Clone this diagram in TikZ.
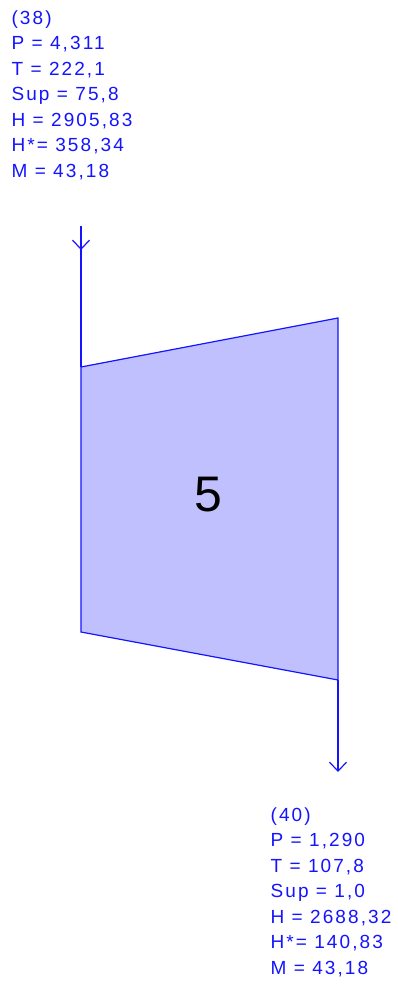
\documentclass[tikz,border=0pt]{standalone}
\usepackage{fontspec}
\setmainfont{Liberation Sans}
\newfontfamily\datafont[LetterSpace=11]{Liberation Sans}
\definecolor{strBlue}{RGB}{20,20,255}
\definecolor{turbFill}{RGB}{192,192,255}
\usetikzlibrary{arrows.meta, positioning}

\begin{document}
\begin{tikzpicture}[x=1pt, y=-1pt,
    line width=1.2pt,
    stream/.style={draw=strBlue, -{Straight Barb[length=9pt, width=17pt, line width=1.2pt]}},
    streamlabel/.style={text=strBlue, font=\datafont\fontsize{19}{25.5}\selectfont,
      align=left, anchor=north west, inner sep=0pt}]
  \useasboundingbox (0,0) rectangle (398,985);
  % stream data
  \node[streamlabel] (s38) at (11,10) {(38)\\P = 4,311\\T = 222,1\\Sup = 75,8\\H = 2905,83\\H*= 358,34\\M = 43,18};
  \node[streamlabel] (s40) at (270,807) {(40)\\P = 1,290\\T = 107,8\\Sup = 1,0\\H = 2688,32\\H*= 140,83\\M = 43,18};
  % turbine body
  \coordinate (tl) at (81,367);
  \coordinate (tr) at (338,318);
  \coordinate (br) at (338,680);
  \coordinate (bl) at (81,632);
  \draw[strBlue, fill=turbFill] (tl) -- (tr) -- (br) -- (bl) -- cycle;
  \node[font=\fontsize{50}{50}\selectfont] (t5) at (208,495) {5};
  % connectors
  \coordinate (in38) at (81,226);
  \coordinate (out40) at (338,772);
  \draw[stream] (in38) -- (81,250);
  \draw[strBlue] (81,240) -- (tl);
  \draw[stream] (br) -- (out40);
\end{tikzpicture}
\end{document}
